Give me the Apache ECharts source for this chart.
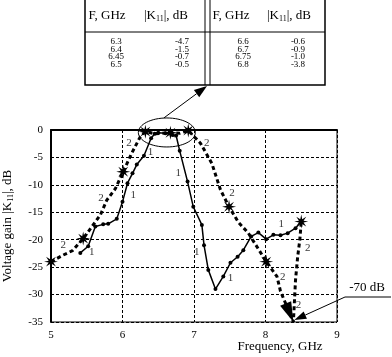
<!DOCTYPE html>
<html>
<head>
<meta charset="utf-8">
<script src="https://cdn.jsdelivr.net/npm/echarts@6/dist/echarts.min.js"></script>
<style>
html, body { margin: 0; padding: 0; background: #fff; }
#chart { width: 392px; height: 357px; }
</style>
</head>
<body>
<div id="chart"></div>
<script>
// curve 1 (solid, dots)
var c1Freq = [5.41, 5.52, 5.62, 5.73, 5.80, 5.92, 6.0, 6.07, 6.14, 6.2, 6.3, 6.4, 6.45, 6.5, 6.6, 6.7, 6.75, 6.8,
  6.91, 6.99, 7.11, 7.14, 7.2, 7.30, 7.41, 7.51, 7.61, 7.69, 7.80, 7.90, 8.01, 8.11, 8.21, 8.31, 8.42, 8.5]
var c1Gain = [-22.4, -21.2, -17.6, -17.2, -17.1, -16.2, -13.1, -9.7, -7.9, -6.3, -4.7, -1.5, -0.7, -0.5, -0.6, -0.9, -1.0, -3.8,
  -9.4, -14.0, -17.3, -21.0, -25.5, -29.0, -26.7, -24.2, -23.1, -21.9, -19.4, -18.7, -19.9, -19.1, -19.2, -18.8, -17.9, -16.7]

// curve 2 (thick dashed, stars)
var c2Freq = [5.0, 5.17, 5.3, 5.45, 5.69, 5.78, 5.9, 6.01, 6.13, 6.25, 6.32, 6.46, 6.55, 6.67, 6.8, 6.92,
  7.09, 7.25, 7.37, 7.49, 7.62, 7.76, 7.91, 8.01, 8.16, 8.21, 8.39, 8.42, 8.45, 8.48, 8.5]
var c2Gain = [-24.0, -22.8, -22.0, -19.8, -15.5, -12.8, -10.7, -7.6, -4.2, -1.2, -0.3, -0.7, -0.6, -0.5, -0.6, -0.1,
  -2.4, -6.1, -10.9, -14.0, -16.8, -18.8, -21.9, -24.0, -26.7, -29.4, -35, -27.3, -23.1, -20.0, -16.7]
var c2Star = [1, 0, 0, 1, 0, 0, 0, 1, 0, 0, 1, 0, 0, 1, 0, 1,
  0, 0, 0, 1, 0, 0, 0, 1, 0, 0, 0, 0, 0, 0, 1]

// curve number labels
var noteFreq = [5.17, 5.57, 5.70, 6.15, 6.09, 6.39, 6.78, 7.18, 7.53, 7.04, 7.51, 8.22, 8.59, 8.24, 8.46]
var noteGain = [-20.9, -22.2, -12.4, -11.8, -2.4, -4.0, -7.8, -2.4, -11.5, -22.2, -27.0, -17.1, -21.5, -26.8, -31.9]
var noteText = ['2', '1', '2', '1', '2', '1', '1', '2', '2', '1', '1', '1', '2', '2', '2']

// inset table
var tabFreqA = ['6.3', '6.4', '6.45', '6.5']
var tabGainA = ['-4.7', '-1.5', '-0.7', '-0.5']
var tabFreqB = ['6.6', '6.7', '6.75', '6.8']
var tabGainB = ['-0.6', '-0.9', '-1.0', '-3.8']

var serif = '"Liberation Serif", "DejaVu Serif", serif'

// 8-point star burst symbol
var starPath = 'path://'
for (var k = 0; k < 16; k++) {
  var a = k * Math.PI / 8
  var r = k % 2 === 0 ? 50 : 18
  starPath += (k === 0 ? 'M' : 'L') + (50 + r * Math.cos(a)).toFixed(1) + ' ' + (50 + r * Math.sin(a)).toFixed(1) + ' '
}
starPath += 'Z'

var chart = echarts.init(document.getElementById('chart'))

chart.setOption({
  animation: false,
  backgroundColor: '#fff',
  grid: {
    left: 51, top: 130, right: 55, bottom: 35,
    outerBoundsMode: 'none',
    show: true, borderColor: '#000', borderWidth: 1
  },
  xAxis: {
    type: 'value', min: 5, max: 9, interval: 1,
    axisLine: { lineStyle: { color: '#000', width: 2 } },
    axisTick: { show: false },
    axisLabel: { color: '#000', fontFamily: serif, fontSize: 11, margin: 8 },
    splitLine: { lineStyle: { color: '#000', type: [3, 2], width: 1 } }
  },
  yAxis: {
    type: 'value', min: -35, max: 0, interval: 5,
    name: 'Voltage gain |K{s|11}|, dB',
    nameLocation: 'middle', nameRotate: 90, nameGap: 36,
    nameTextStyle: {
      color: '#000', fontFamily: serif, fontSize: 13,
      rich: { s: { fontFamily: serif, fontSize: 8, verticalAlign: 'bottom', padding: [6, 0, 0, 0] } }
    },
    axisLine: { lineStyle: { color: '#000', width: 2 } },
    axisTick: { show: false },
    axisLabel: { color: '#000', fontFamily: serif, fontSize: 11, margin: 8 },
    splitLine: { lineStyle: { color: '#000', type: [3, 2], width: 1 } }
  },
  series: [
    {
      type: 'line',
      data: c1Freq.map(function (f, i) { return [f, c1Gain[i]] }),
      symbol: 'circle', symbolSize: 4,
      itemStyle: { color: '#000' },
      lineStyle: { color: '#000', width: 1.5 },
      z: 3
    },
    {
      type: 'line',
      data: c2Freq.map(function (f, i) {
        return { value: [f, c2Gain[i]], symbol: c2Star[i] ? starPath : 'none' }
      }),
      symbol: starPath, symbolSize: 14,
      itemStyle: { color: '#000' },
      lineStyle: { color: '#000', width: 3, type: [4, 3] },
      z: 4
    },
    {
      type: 'scatter',
      data: noteFreq.map(function (f, i) { return [f, noteGain[i]] }),
      symbolSize: 1,
      itemStyle: { color: 'rgba(0,0,0,0)' },
      label: {
        show: true, position: 'inside', color: '#000',
        fontFamily: serif, fontSize: 11,
        formatter: function (p) { return noteText[p.dataIndex] }
      },
      silent: true,
      z: 5
    }
  ]
})

function px (f, g) { return chart.convertToPixel({ gridIndex: 0 }, [f, g]) }

function arrow (x1, y1, x2, y2, len, hw, width) {
  var dx = x2 - x1, dy = y2 - y1
  var d = Math.sqrt(dx * dx + dy * dy)
  var ux = dx / d, uy = dy / d
  var bx = x2 - ux * len, by = y2 - uy * len
  return [
    { type: 'line', shape: { x1: x1, y1: y1, x2: bx, y2: by }, style: { stroke: '#000', lineWidth: width || 1 } },
    { type: 'polygon', shape: { points: [[x2, y2], [bx - uy * hw, by + ux * hw], [bx + uy * hw, by - ux * hw]] }, style: { fill: '#000' } }
  ]
}

function txt (x, y, s, size, extra) {
  var o = {
    type: 'text', x: x, y: y,
    style: { text: s, fill: '#000', font: size + 'px ' + serif, align: 'center', verticalAlign: 'middle' }
  }
  if (extra) o.style.rich = extra
  return o
}

var g = []

// ellipse around the peak region and pointer to the table
var ec = px(6.62, -0.45)
g.push({ type: 'ellipse', shape: { cx: ec[0], cy: ec[1], rx: 28.5, ry: 14.5 }, style: { fill: 'none', stroke: '#000', lineWidth: 1 } })
g = g.concat(arrow(ec[0] - 3, ec[1] - 14.5, 207, 86, 13, 4.5))

// arrowhead on curve 2 drop
var pA = px(8.21, -29.4), pB = px(8.39, -35)
g = g.concat(arrow(pA[0], pA[1], pB[0], pB[1], 20, 6, 0).slice(1))

// -70 dB pointer
g.push({ type: 'line', shape: { x1: 345, y1: 297, x2: 391, y2: 297 }, style: { stroke: '#000', lineWidth: 1 } })
g = g.concat(arrow(345, 297, pB[0] + 1, pB[1] - 2, 12, 4))
g.push(txt(367, 288, '-70 dB', 13))

// x axis name
g.push(txt(280, 347, 'Frequency, GHz', 13))

// table
var subRich = { s: { fontFamily: serif, fontSize: 8, verticalAlign: 'bottom', padding: [6, 0, 0, 0] } }
g.push({ type: 'rect', shape: { x: 85, y: -2, width: 240, height: 87 }, style: { fill: '#fff', stroke: '#000', lineWidth: 1.5 } })
g.push({ type: 'line', shape: { x1: 85, y1: 32, x2: 325, y2: 32 }, style: { stroke: '#000', lineWidth: 1 } })
g.push({ type: 'line', shape: { x1: 205, y1: -2, x2: 205, y2: 85 }, style: { stroke: '#000', lineWidth: 1 } })
g.push({ type: 'line', shape: { x1: 210, y1: -2, x2: 210, y2: 85 }, style: { stroke: '#000', lineWidth: 1 } })
g.push(txt(107, 16, 'F, GHz', 13))
g.push(txt(166, 16, '|K{s|11}|, dB', 13, subRich))
g.push(txt(231, 16, 'F, GHz', 13))
g.push(txt(289, 16, '|K{s|11}|, dB', 13, subRich))
for (var i = 0; i < 4; i++) {
  var ry = 41.5 + i * 7.7
  g.push(txt(116, ry, tabFreqA[i], 9))
  g.push(txt(182, ry, tabGainA[i], 9))
  g.push(txt(243, ry, tabFreqB[i], 9))
  g.push(txt(298, ry, tabGainB[i], 9))
}

chart.setOption({ graphic: g })
</script>
</body>
</html>
